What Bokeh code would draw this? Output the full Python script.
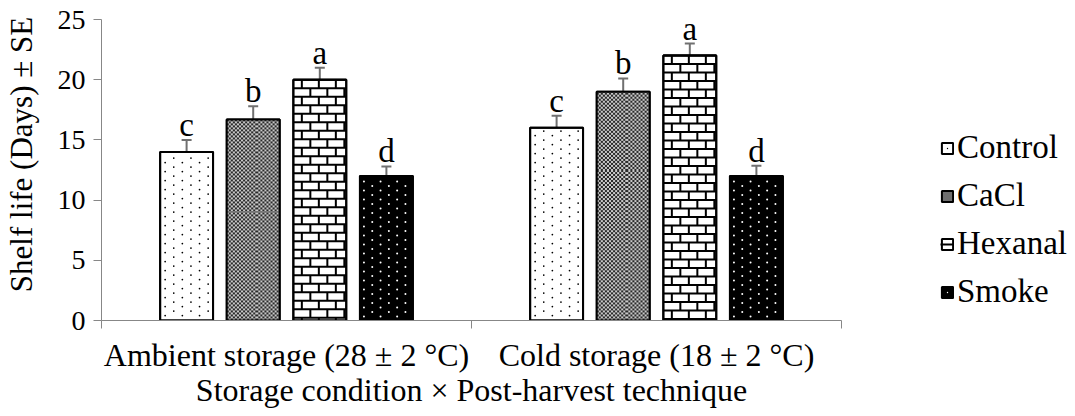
import numpy as np
from bokeh.plotting import figure
from bokeh.models import (Range1d, FixedTicker, Legend, LegendItem,
                          ColumnDataSource, Whisker)
from bokeh.core.properties import value
from bokeh.embed import file_html
from bokeh.resources import INLINE

# Storage conditions (groups along x) and post-harvest treatments (bars in each group)
conditions = ["Ambient storage (28 \u00b1 2 \u00b0C)", "Cold storage (18 \u00b1 2 \u00b0C)"]
treatments = ["Control", "CaCl", "Hexanal", "Smoke"]

# Shelf life (days) per treatment, one value per storage condition
control = [14.0, 16.0]
cacl = [16.7, 19.0]
hexanal = [20.0, 22.0]
smoke = [12.0, 12.0]

# Standard errors
control_se = [1.0, 1.0]
cacl_se = [1.1, 1.1]
hexanal_se = [1.0, 1.0]
smoke_se = [0.8, 0.85]

# Significance letters
control_letters = ["c", "c"]
cacl_letters = ["b", "b"]
hexanal_letters = ["a", "a"]
smoke_letters = ["d", "d"]

series = [
    (treatments[0], control, control_se, control_letters),
    (treatments[1], cacl, cacl_se, cacl_letters),
    (treatments[2], hexanal, hexanal_se, hexanal_letters),
    (treatments[3], smoke, smoke_se, smoke_letters),
]

FONT = "Liberation Serif"
FRAME_W, FRAME_H = 740, 301
X_MAX, Y_MAX = 2, 25
PX_X = FRAME_W / X_MAX      # screen pixels per x unit
PX_Y = FRAME_H / Y_MAX      # screen pixels per y unit

p = figure(frame_width=FRAME_W, frame_height=FRAME_H, output_backend="svg",
           toolbar_location=None,
           x_range=Range1d(0, X_MAX), y_range=Range1d(0, Y_MAX),
           min_border_left=100, min_border_right=235, min_border_top=19,
           min_border_bottom=96)
p.outline_line_color = None
p.grid.visible = False
p.background_fill_color = "white"

bar_width = 0.143
step = 0.18
bar_px = bar_width * PX_X


def staggered_dots(xc, top, dx_px, dy_px, col_shift_px, margin_px):
    """Dot grid inside one bar: columns dx_px apart, alternate columns shifted."""
    left = xc - bar_width / 2
    xs, ys = [], []
    col = 0
    xp = margin_px
    while xp < bar_px - margin_px * 0.5:
        yp = margin_px + (col % 2) * col_shift_px
        while yp < top * PX_Y - margin_px * 0.5:
            xs.append(left + xp / PX_X)
            ys.append(yp / PX_Y)
            yp += dy_px
        xp += dx_px
        col += 1
    return xs, ys


def brick_lines(xc, top, brick_w_px, brick_h_px):
    """Mortar lines of a running-bond brick wall filling one bar."""
    left = xc - bar_width / 2
    right = xc + bar_width / 2
    x0, y0, x1, y1 = [], [], [], []
    h_px = top * PX_Y
    row = 0
    yp = 0.0
    while yp < h_px:
        y_hi = h_px - yp
        y_lo = max(h_px - yp - brick_h_px, 0)
        # horizontal course line
        x0.append(left); x1.append(right)
        y0.append(y_hi / PX_Y); y1.append(y_hi / PX_Y)
        # vertical joints
        xp = (row % 2) * brick_w_px / 2 + brick_w_px / 2
        while xp < bar_px - 1:
            x0.append(left + xp / PX_X); x1.append(left + xp / PX_X)
            y0.append(y_hi / PX_Y); y1.append(y_lo / PX_Y)
            xp += brick_w_px
        yp += brick_h_px
        row += 1
    return x0, y0, x1, y1


legend_items = []
for j, (name, vals, se, letters) in enumerate(series):
    xs = [i + 0.5 + (j - 1.5) * step for i in range(len(conditions))]
    src = ColumnDataSource(dict(
        x=xs, top=vals,
        upper=[v + e for v, e in zip(vals, se)],
        lower=[v - e for v, e in zip(vals, se)],
        label=letters,
    ))
    fill = ["white", "#6f6f6f", "white", "black"][j]
    base = p.vbar(x="x", top="top", width=bar_width, source=src,
                  fill_color=fill, line_color="black", line_width=2)
    renderers = [base]

    if j == 0:
        dx, dy = [], []
        for xc, v in zip(xs, vals):
            a, b = staggered_dots(xc, v, 8.6, 9.0, 4.5, 5)
            dx += a; dy += b
        renderers.append(p.scatter(dx, dy, marker="dot", size=7,
                                   line_color="black", fill_color="black"))
    elif j == 1:
        for xc, v in zip(xs, vals):
            nx = int(round(bar_px / 2))
            ny = int(round(v * PX_Y / 2))
            yy, xx = np.mgrid[0:ny, 0:nx]
            img = np.where((xx + yy) % 2 == 0, 0xFF2A2A2A, 0xFFC8C8C8).astype(np.uint32)
            p.image_rgba(image=[img], x=xc - bar_width / 2, y=0,
                         dw=bar_width, dh=v)
    elif j == 2:
        sx0, sy0, sx1, sy1 = [], [], [], []
        for xc, v in zip(xs, vals):
            a, b, c, d = brick_lines(xc, v, 17.0, 8.5)
            sx0 += a; sy0 += b; sx1 += c; sy1 += d
        renderers.append(p.segment(sx0, sy0, sx1, sy1, line_color="black",
                                   line_width=2))
    else:
        dx, dy = [], []
        for xc, v in zip(xs, vals):
            a, b = staggered_dots(xc, v, 8.3, 9.0, 4.5, 4)
            dx += a; dy += b
        renderers.append(p.scatter(dx, dy, marker="dot", size=8,
                                   line_color="white", fill_color="white"))

    # crisp outline on top of the pattern
    p.vbar(x="x", top="top", width=bar_width, source=src,
           fill_color=None, line_color="black", line_width=2)
    legend_items.append(LegendItem(label=name, renderers=renderers))

    w = Whisker(base="x", upper="upper", lower="lower", source=src,
                line_color="#707070", line_width=2)
    for head in (w.upper_head, w.lower_head):
        head.size = 10
        head.line_color = "#707070"
        head.line_width = 2
    p.add_layout(w)
    p.text(x="x", y="upper", text="label", source=src, text_align="center",
           text_baseline="bottom", y_offset=3,
           text_font=value(FONT), text_font_size="33px", text_color="black")

# Axes
axis_gray = "#878787"
p.yaxis.ticker = FixedTicker(ticks=[0, 5, 10, 15, 20, 25])
p.yaxis.axis_line_color = axis_gray
p.yaxis.major_tick_line_color = axis_gray
p.yaxis.major_tick_out = 8
p.yaxis.major_tick_in = 0
p.yaxis.minor_tick_line_color = None
p.yaxis.major_label_text_font = FONT
p.yaxis.major_label_text_font_size = "28px"
p.yaxis.major_label_text_color = "black"
p.yaxis.major_label_standoff = 8
# leading no-break spaces lift the rotated title a little above the middle
p.yaxis.axis_label = "\u00a0\u00a0\u00a0\u00a0Shelf life (Days) \u00b1 SE"
p.yaxis.axis_label_text_font = FONT
p.yaxis.axis_label_text_font_size = "31px"
p.yaxis.axis_label_text_font_style = "normal"
p.yaxis.axis_label_text_color = "black"
p.yaxis.axis_label_standoff = 16

p.xaxis.ticker = FixedTicker(ticks=[0.5, 1.5], minor_ticks=[0, 1, 2])
p.xaxis.major_label_overrides = {0.5: conditions[0], 1.5: conditions[1]}
p.xaxis.axis_line_color = axis_gray
p.xaxis.major_tick_line_color = None
p.xaxis.minor_tick_line_color = axis_gray
p.xaxis.minor_tick_out = 8
p.xaxis.minor_tick_in = 0
p.xaxis.major_label_text_font = FONT
p.xaxis.major_label_text_font_size = "32px"
p.xaxis.major_label_text_color = "black"
p.xaxis.major_label_standoff = 8
p.xaxis.axis_label = "Storage condition \u00d7 Post-harvest technique"
p.xaxis.axis_label_text_font = FONT
p.xaxis.axis_label_text_font_size = "32px"
p.xaxis.axis_label_text_font_style = "normal"
p.xaxis.axis_label_text_color = "black"
p.xaxis.axis_label_standoff = -4

legend = Legend(items=legend_items, location=(99, 10), orientation="vertical",
                glyph_width=14, glyph_height=14, label_height=26, spacing=11,
                label_standoff=3, padding=0, margin=0,
                label_text_font=FONT, label_text_font_size="33px",
                label_text_color="black", border_line_color=None,
                background_fill_alpha=0)
p.add_layout(legend, "right")

open("out.html", "w").write(file_html(p, INLINE))
